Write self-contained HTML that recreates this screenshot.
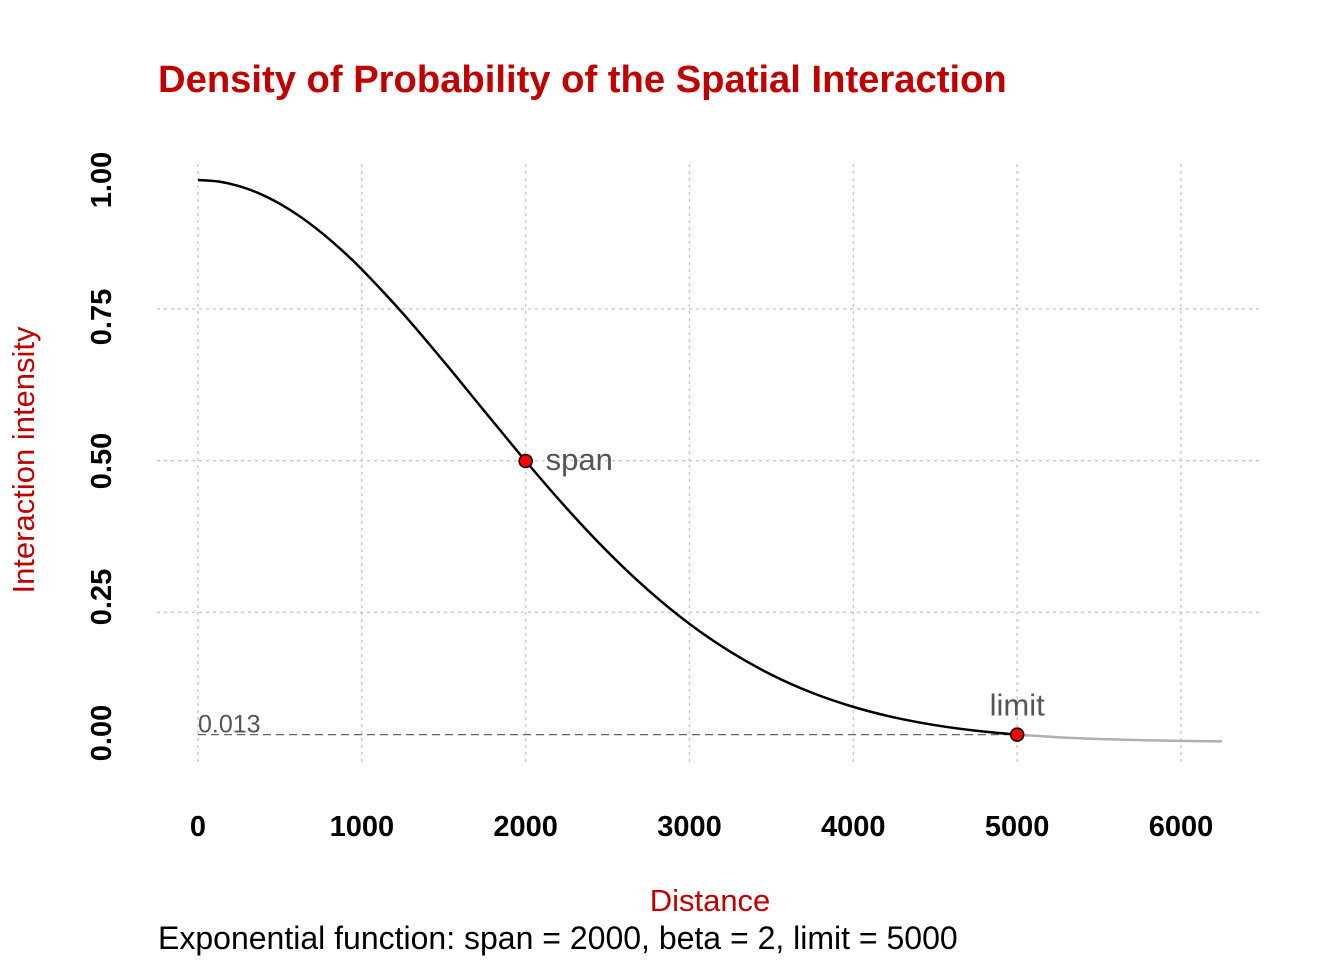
<!DOCTYPE html>
<html><head><meta charset="utf-8"><style>
html,body{margin:0;padding:0;background:#fff;}
svg{display:block;font-family:"Liberation Sans",Arial,sans-serif;}
</style></head><body>
<svg id="chart" width="1344" height="960" viewBox="0 0 1344 960">
<text x="158" y="92" font-size="38.2" font-weight="bold" fill="#c00000">Density of Probability of the Spatial Interaction</text>
<g id="grid"></g>
<g id="yticks"></g>
<g id="xticks"></g>
<g id="marks"></g>
<text transform="translate(34,460) rotate(-90)" text-anchor="middle" font-size="31" fill="#c00000">Interaction intensity</text>
<text x="710" y="911" text-anchor="middle" font-size="31" fill="#c00000">Distance</text>
<text x="158" y="949" font-size="32" fill="#000">Exponential function: span = 2000, beta = 2, limit = 5000</text>
</svg>
<script>
const distances=[0,125,250,375,500,625,750,875,1000,1250,1500,1750,2000,2250,2500,2750,3000,3250,3500,3750,4000,4250,4500,4750,5000,5250,5500,5750,6000,6250];
const intensity=[1,0.9973,0.9892,0.9759,0.9576,0.9346,0.9071,0.8757,0.8409,0.7628,0.6771,0.5882,0.5,0.4159,0.3386,0.2697,0.2102,0.1604,0.1197,0.0874,0.0625,0.0437,0.0299,0.0200,0.0131,0.0084,0.0053,0.0033,0.00195,0.00115];
const xTicks=[0,1000,2000,3000,4000,5000,6000];
const yTickLabels=["1.00","0.75","0.50","0.25","0.00"];
const yGridValues=[0.75,0.5,0.25];
const spanPoint=[2000,0.5];
const limitPoint=[5000,0.0131];
const limitLabel="0.013";

const NS="http://www.w3.org/2000/svg";
function x(d){return 198+d*0.16383;}
function y(v){return 742-v*562;}
function gy(v){return 764-v*606.7;}
function mk(tag,attrs,parent,text){const e=document.createElementNS(NS,tag);for(const k in attrs)e.setAttribute(k,attrs[k]);if(text!==undefined)e.textContent=text;parent.appendChild(e);return e;}
const grid=document.getElementById('grid'),yt=document.getElementById('yticks'),xt=document.getElementById('xticks'),marks=document.getElementById('marks');
xTicks.forEach(t=>{
  const l=mk('line',{x1:x(t),x2:x(t),y1:164,y2:762,stroke:'#c8c8c8','stroke-width':1.4,'stroke-dasharray':'3,4'},grid);
  
  
  const tx=mk('text',{x:x(t),y:836,'text-anchor':'middle','font-size':29,'font-weight':'bold'},xt,String(t));
  
  
});
yGridValues.forEach(v=>{
  const l=mk('line',{x1:157,x2:1260,y1:gy(v),y2:gy(v),stroke:'#c8c8c8','stroke-width':1.4,'stroke-dasharray':'3,4'},grid);
  
  
});
const labelY=[180,317,461,597,733];
yTickLabels.forEach((s,i)=>{
  const t=mk('text',{transform:`translate(111,${labelY[i]}) rotate(-90)`,'text-anchor':'middle','font-size':29,'font-weight':'bold'},yt,s);
  
  
});
function pathFor(xs,ys){
  let d=`M${x(xs[0])},${y(ys[0])}`;
  for(let i=0;i<xs.length-1;i++){
    const p0=[x(xs[Math.max(0,i-1)]),y(ys[Math.max(0,i-1)])],p1=[x(xs[i]),y(ys[i])],p2=[x(xs[i+1]),y(ys[i+1])],p3=[x(xs[Math.min(xs.length-1,i+2)]),y(ys[Math.min(xs.length-1,i+2)])];
    const c1=[p1[0]+(p2[0]-p0[0])/6,p1[1]+(p2[1]-p0[1])/6],c2=[p2[0]-(p3[0]-p1[0])/6,p2[1]-(p3[1]-p1[1])/6];
    d+=` C${c1[0]},${c1[1]} ${c2[0]},${c2[1]} ${p2[0]},${p2[1]}`;
  }
  return d;
}
const li=distances.indexOf(limitPoint[0]);
const dl=mk('line',{x1:x(0),x2:x(limitPoint[0]),y1:y(limitPoint[1]),y2:y(limitPoint[1]),stroke:'#666','stroke-width':1.2,'stroke-dasharray':'8,5'},marks);


const lt=mk('text',{x:x(0),y:y(limitPoint[1])-2,'font-size':25,fill:'#555'},marks,limitLabel);


const tail=mk('path',{d:pathFor(distances.slice(li),intensity.slice(li)),fill:'none',stroke:'#b0b0b0','stroke-width':2.5},marks);


const main=mk('path',{d:pathFor(distances.slice(0,li+1),intensity.slice(0,li+1)),fill:'none',stroke:'#000','stroke-width':2.5},marks);


const sp=mk('circle',{cx:x(spanPoint[0]),cy:y(spanPoint[1]),r:6.5,fill:'#ff0000',stroke:'#000','stroke-width':1.6},marks);


const st=mk('text',{x:x(spanPoint[0])+20,y:y(spanPoint[1])+9,'font-size':31,fill:'#555'},marks,'span');


const lp=mk('circle',{cx:x(limitPoint[0]),cy:y(limitPoint[1]),r:6.5,fill:'#ff0000',stroke:'#000','stroke-width':1.6},marks);


const ltx=mk('text',{x:x(limitPoint[0]),y:y(limitPoint[1])-19,'text-anchor':'middle','font-size':31,fill:'#555'},marks,'limit');


</script>
</body></html>
